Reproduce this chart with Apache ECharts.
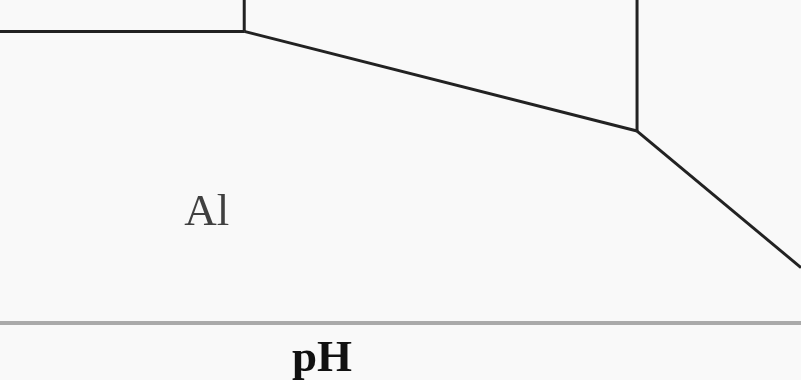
<!DOCTYPE html>
<html><head><meta charset="utf-8">
<script src="https://cdn.jsdelivr.net/npm/echarts@6/dist/echarts.min.js"></script>
<style>html,body{margin:0;padding:0;background:#f9f9f9}#c{width:801px;height:380px}</style>
</head><body><div id="c"></div>
<script>
// Pourbaix boundaries (pH, E / V)
const al3Boundary = [[1.14, -1.66], [4.0, -1.66]];
const al3OxideVertical = [[4.0, -1.66], [4.0, -1.575]];
const oxideBoundary = [[4.0, -1.66], [8.6, -1.93]];
const oxideAluminateVertical = [[8.6, -1.93], [8.6, -1.575]];
const aluminateBoundary = [[8.6, -1.93], [10.52, -2.30]];
const regionLabels = [{ name: 'Al', value: [3.56, -2.152] }];
const xRange = [1.14, 10.52];
const yRange = [-2.45, -1.575];

const chart = echarts.init(document.getElementById('c'));
const lineStyle = { color: '#222', width: 3 };
const mk = d => ({ type: 'line', data: d, showSymbol: false, symbol: 'none', lineStyle, clip: false, animation: false });
chart.setOption({
  backgroundColor: '#f9f9f9',
  animation: false,
  grid: { left: 0, right: 0, top: 0, bottom: 57 },
  xAxis: { type: 'value', min: xRange[0], max: xRange[1],
    axisLine: { show: true, lineStyle: { color: '#aaa', width: 4 } },
    axisTick: { show: false }, axisLabel: { show: false }, splitLine: { show: false } },
  yAxis: { type: 'value', min: yRange[0], max: yRange[1], show: false, splitLine: { show: false } },
  graphic: [{ type: 'text', x: 322, y: 359, style: { text: 'pH', font: 'bold 45px "Liberation Serif", serif', fill: '#111', align: 'center', verticalAlign: 'middle' } }],
  series: [
    mk(al3Boundary), mk(al3OxideVertical), mk(oxideBoundary), mk(oxideAluminateVertical), mk(aluminateBoundary),
    { type: 'scatter', data: regionLabels, symbolSize: 0, animation: false,
      label: { show: true, position: 'inside', formatter: p => p.name, fontFamily: '"Liberation Serif", serif', fontSize: 45, color: '#111' } }
  ]
});
</script></body></html>
